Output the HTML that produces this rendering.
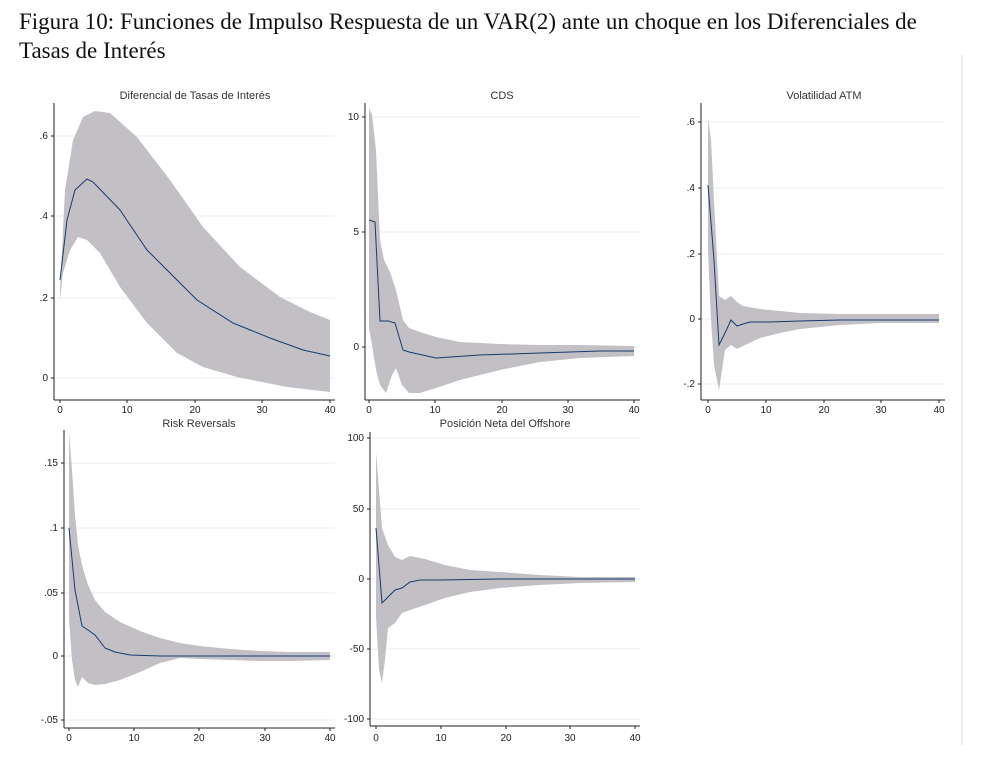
<!DOCTYPE html>
<html><head><meta charset="utf-8"><style>
body{margin:0;background:#fff;width:983px;height:766px;overflow:hidden}
.t{font-family:"Liberation Serif",serif;font-size:23px;position:absolute;left:19px;top:7px;line-height:29px;color:#111;white-space:nowrap}
svg{position:absolute;left:0;top:0}
text{font-family:"Liberation Sans",sans-serif;font-size:10px;fill:#222}
.ti{font-size:11px;fill:#333}
.b{fill:#c2c0c5}
.l{fill:none;stroke:#1a3a6a;stroke-width:1}
.ax{stroke:#222;stroke-width:1;fill:none}
.g{stroke:#eee;stroke-width:1}
</style></head><body>
<div class="t">Figura 10: Funciones de Impulso Respuesta de un VAR(2) ante un choque en los Diferenciales de<br>Tasas de Interés</div>
<svg width="983" height="766">
<line x1="962" y1="55" x2="962" y2="745" stroke="#ddd"/>
<!-- Panel 1 -->
<text class="ti" x="195" y="99" text-anchor="middle">Diferencial de Tasas de Interés</text>
<g class="g"><line x1="55" y1="136" x2="335" y2="136"/><line x1="55" y1="216" x2="335" y2="216"/><line x1="55" y1="298" x2="335" y2="298"/><line x1="55" y1="378" x2="335" y2="378"/></g>
<polygon class="b" points="60,290 65,190 73,140 83,117 95,111 110,113 137,137 170,180 203,227 240,267 280,297 310,312 330,320 330,392 287,387 237,377 203,367 177,353 147,323 120,287 100,253 87,240 78,237 70,250 63,273 60,300"/>
<polyline class="l" points="60,280 67,220 75,190 87,179 93,182 120,210 147,250 170,273 197,300 233,323 270,338 303,350 330,356"/>
<line class="ax" x1="54" y1="103" x2="54" y2="400"/><line class="ax" x1="54" y1="400" x2="335" y2="400"/>
<g class="ax"><line x1="51" y1="136" x2="54" y2="136"/><line x1="51" y1="216" x2="54" y2="216"/><line x1="51" y1="298" x2="54" y2="298"/><line x1="51" y1="378" x2="54" y2="378"/>
<line x1="60" y1="400" x2="60" y2="403"/><line x1="127" y1="400" x2="127" y2="403"/><line x1="195" y1="400" x2="195" y2="403"/><line x1="262" y1="400" x2="262" y2="403"/><line x1="330" y1="400" x2="330" y2="403"/></g>
<g text-anchor="end"><text x="48" y="139">.6</text><text x="48" y="219">.4</text><text x="48" y="301">.2</text><text x="48" y="381">0</text></g>
<g text-anchor="middle"><text x="60" y="413">0</text><text x="127" y="413">10</text><text x="195" y="413">20</text><text x="262" y="413">30</text><text x="330" y="413">40</text></g>
<!-- Panel 2 -->
<text class="ti" x="502" y="99" text-anchor="middle">CDS</text>
<g class="g"><line x1="365" y1="117" x2="640" y2="117"/><line x1="365" y1="232" x2="640" y2="232"/><line x1="365" y1="347" x2="640" y2="347"/></g>
<polygon class="b" points="369,108 372,115 376,150 380,240 384,260 390,272 396,290 403,320 409,328 420,332 436,337 460,342 500,344 540,345 580,345 634,346 634,356 580,358 540,362 500,370 460,380 436,388 420,393 409,393 402,385 396,368 392,375 386,393 380,385 376,370 372,345 369,328"/>
<polyline class="l" points="369,220 375,222 380,321 388,321 395,323 403,350 409,352 436,358 480,355 540,353 600,351 634,351"/>
<line class="ax" x1="365" y1="103" x2="365" y2="400"/><line class="ax" x1="365" y1="400" x2="640" y2="400"/>
<g class="ax"><line x1="362" y1="117" x2="365" y2="117"/><line x1="362" y1="232" x2="365" y2="232"/><line x1="362" y1="347" x2="365" y2="347"/>
<line x1="369" y1="400" x2="369" y2="403"/><line x1="435" y1="400" x2="435" y2="403"/><line x1="502" y1="400" x2="502" y2="403"/><line x1="568" y1="400" x2="568" y2="403"/><line x1="634" y1="400" x2="634" y2="403"/></g>
<g text-anchor="end"><text x="359" y="120">10</text><text x="359" y="235">5</text><text x="359" y="350">0</text></g>
<g text-anchor="middle"><text x="369" y="413">0</text><text x="435" y="413">10</text><text x="502" y="413">20</text><text x="568" y="413">30</text><text x="634" y="413">40</text></g>
<!-- Panel 3 -->
<text class="ti" x="824" y="99" text-anchor="middle">Volatilidad ATM</text>
<g class="g"><line x1="701" y1="122" x2="945" y2="122"/><line x1="701" y1="188" x2="945" y2="188"/><line x1="701" y1="254" x2="945" y2="254"/><line x1="701" y1="319" x2="945" y2="319"/><line x1="701" y1="384" x2="945" y2="384"/></g>
<polygon class="b" points="708,118 711,140 714,200 719,296 725,300 731,296 737,302 743,306 760,309 780,311 800,313 840,314 880,314 939,314 939,323 880,323 840,325 800,329 780,333 760,338 743,346 737,349 731,345 725,350 719,390 714,365 711,320 708,250"/>
<polyline class="l" points="708,185 714,260 719,345 725,333 731,320 737,326 743,324 750,322 770,322 800,321 840,320 880,320 939,320"/>
<line class="ax" x1="701" y1="103" x2="701" y2="400"/><line class="ax" x1="701" y1="400" x2="945" y2="400"/>
<g class="ax"><line x1="698" y1="122" x2="701" y2="122"/><line x1="698" y1="188" x2="701" y2="188"/><line x1="698" y1="254" x2="701" y2="254"/><line x1="698" y1="319" x2="701" y2="319"/><line x1="698" y1="384" x2="701" y2="384"/>
<line x1="708" y1="400" x2="708" y2="403"/><line x1="766" y1="400" x2="766" y2="403"/><line x1="824" y1="400" x2="824" y2="403"/><line x1="881" y1="400" x2="881" y2="403"/><line x1="939" y1="400" x2="939" y2="403"/></g>
<g text-anchor="end"><text x="695" y="125">.6</text><text x="695" y="191">.4</text><text x="695" y="257">.2</text><text x="695" y="322">0</text><text x="695" y="387">-.2</text></g>
<g text-anchor="middle"><text x="708" y="413">0</text><text x="766" y="413">10</text><text x="824" y="413">20</text><text x="881" y="413">30</text><text x="939" y="413">40</text></g>
<!-- Panel 4 -->
<text class="ti" x="199" y="427" text-anchor="middle">Risk Reversals</text>
<g class="g"><line x1="64" y1="463" x2="335" y2="463"/><line x1="64" y1="528" x2="335" y2="528"/><line x1="64" y1="593" x2="335" y2="593"/><line x1="64" y1="656" x2="335" y2="656"/><line x1="64" y1="720" x2="335" y2="720"/></g>
<polygon class="b" points="69,432 72,470 75,515 78,545 82,565 88,585 95,600 105,612 120,622 140,631 160,638 180,643 200,646 230,649 260,651 290,652 330,652 330,660 290,661 260,661 230,660 200,659 180,658 160,663 140,672 120,680 105,684 95,685 88,683 82,677 78,687 75,680 72,660 69,620"/>
<polyline class="l" points="69,528 75,590 82,626 88,630 95,635 105,648 115,652 130,655 160,656 200,656 260,656 330,656"/>
<line class="ax" x1="64" y1="430" x2="64" y2="728"/><line class="ax" x1="64" y1="728" x2="335" y2="728"/>
<g class="ax"><line x1="61" y1="463" x2="64" y2="463"/><line x1="61" y1="528" x2="64" y2="528"/><line x1="61" y1="593" x2="64" y2="593"/><line x1="61" y1="656" x2="64" y2="656"/><line x1="61" y1="720" x2="64" y2="720"/>
<line x1="69" y1="728" x2="69" y2="731"/><line x1="134" y1="728" x2="134" y2="731"/><line x1="199" y1="728" x2="199" y2="731"/><line x1="265" y1="728" x2="265" y2="731"/><line x1="330" y1="728" x2="330" y2="731"/></g>
<g text-anchor="end"><text x="58" y="466">.15</text><text x="58" y="531">.1</text><text x="58" y="596">.05</text><text x="58" y="659">0</text><text x="58" y="723">-.05</text></g>
<g text-anchor="middle"><text x="69" y="741">0</text><text x="134" y="741">10</text><text x="199" y="741">20</text><text x="265" y="741">30</text><text x="330" y="741">40</text></g>
<!-- Panel 5 -->
<text class="ti" x="505" y="427" text-anchor="middle">Posición Neta del Offshore</text>
<g class="g"><line x1="370" y1="438" x2="640" y2="438"/><line x1="370" y1="509" x2="640" y2="509"/><line x1="370" y1="579" x2="640" y2="579"/><line x1="370" y1="649" x2="640" y2="649"/><line x1="370" y1="719" x2="640" y2="719"/></g>
<polygon class="b" points="376,452 382,528 388,545 395,557 402,560 410,556 425,559 445,565 470,570 500,572 540,575 580,577 635,577 635,582 580,583 540,585 500,588 470,592 445,598 425,605 410,610 402,613 395,623 388,628 385,660 382,683 379,670 376,617"/>
<polyline class="l" points="376,528 382,603 388,597 395,590 402,588 410,582 420,580 440,580 500,579 635,579"/>
<line class="ax" x1="370" y1="432" x2="370" y2="726"/><line class="ax" x1="370" y1="726" x2="640" y2="726"/>
<g class="ax"><line x1="367" y1="438" x2="370" y2="438"/><line x1="367" y1="509" x2="370" y2="509"/><line x1="367" y1="579" x2="370" y2="579"/><line x1="367" y1="649" x2="370" y2="649"/><line x1="367" y1="719" x2="370" y2="719"/>
<line x1="376" y1="726" x2="376" y2="729"/><line x1="441" y1="726" x2="441" y2="729"/><line x1="506" y1="726" x2="506" y2="729"/><line x1="570" y1="726" x2="570" y2="729"/><line x1="635" y1="726" x2="635" y2="729"/></g>
<g text-anchor="end"><text x="364" y="441">100</text><text x="364" y="512">50</text><text x="364" y="582">0</text><text x="364" y="652">-50</text><text x="364" y="722">-100</text></g>
<g text-anchor="middle"><text x="376" y="741">0</text><text x="441" y="741">10</text><text x="506" y="741">20</text><text x="570" y="741">30</text><text x="635" y="741">40</text></g>
</svg>
</body></html>
